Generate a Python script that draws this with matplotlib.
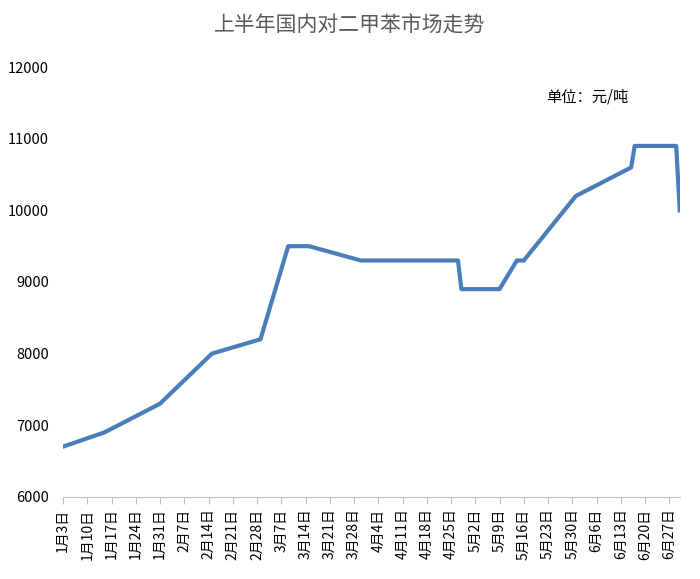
import matplotlib
matplotlib.use("Agg")
import matplotlib.pyplot as plt
import pandas as pd

plt.rcParams['font.family'] = ['Noto Sans CJK SC', 'DejaVu Sans']

dates = ["01-03","01-15","01-31","02-15","03-01","03-09","03-15","03-30",
         "04-27","04-28","05-09","05-14","05-16","05-31","06-16","06-17","06-29","06-30"]
prices = [6700,6900,7300,8000,8200,9500,9500,9300,9300,8900,8900,9300,9300,10200,10600,10900,10900,10000]
tick_dates = pd.date_range("2022-01-03","2022-06-27",freq="7D")
tick_labels = [f"{d.month}月{d.day}日" for d in tick_dates]

x = pd.to_datetime(["2022-"+d for d in dates])
fig = plt.figure(figsize=(7,5.79), dpi=100)
ax = fig.add_axes([0.09,0.142,0.881,0.742])
ax.plot(x, prices, color='#4a7ebb', lw=3)
ax.set_xlim(pd.Timestamp("2022-01-03"), pd.Timestamp("2022-06-30"))
ax.set_ylim(6000,12000)
ax.set_yticks(range(6000,12001,1000))
ax.set_xticks(tick_dates)
ax.set_xticklabels(tick_labels, rotation=90, fontsize=10)
ax.tick_params(axis='y', length=0, labelsize=10.5, pad=10)
ax.tick_params(axis='x', length=5, color='#bfbfbf', direction='out')
for s in ['top','right','left']:
    ax.spines[s].set_visible(False)
ax.spines['bottom'].set_color('#bfbfbf')
fig.text(0.5,0.955,"上半年国内对二甲苯市场走势",ha='center',va='center',fontsize=15,color='#595959')
ax.text(0.85,0.93,"单位：元/吨",transform=ax.transAxes,ha='center',va='center',fontsize=11,color='black')
fig.savefig("out.png")
